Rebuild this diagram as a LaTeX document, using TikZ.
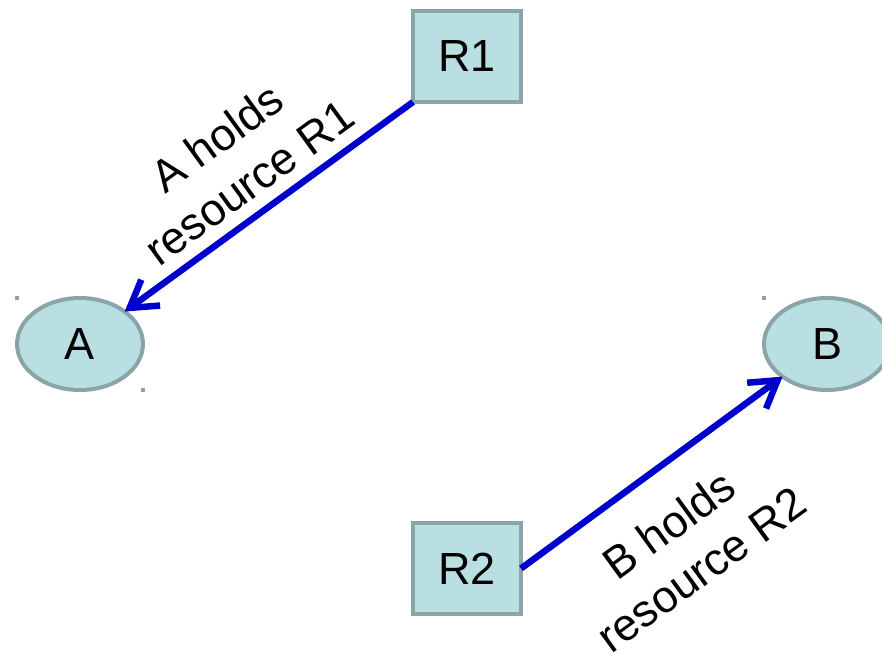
\documentclass[tikz,border=0pt]{standalone}
\usepackage{fontspec}
\setmainfont{Liberation Sans}
\usetikzlibrary{shapes.geometric, arrows.meta}
\definecolor{NodeFill}{RGB}{185,223,227}
\definecolor{NodeEdge}{RGB}{139,164,167}
\definecolor{HoldBlue}{RGB}{0,0,204}

\tikzset{
	process/.style={ellipse, draw=NodeEdge, fill=NodeFill, line width=4pt, minimum width=126pt, minimum height=92pt, inner sep=0pt, outer sep=0pt, font=\fontsize{45}{50}\selectfont},
	resource/.style={rectangle, draw=NodeEdge, fill=NodeFill, line width=4pt, minimum width=108pt, minimum height=91pt, inner sep=0pt, outer sep=0pt, font=\fontsize{45}{50}\selectfont},
	holds/.style={draw=HoldBlue, line width=6.5pt, -{Straight Barb[length=26pt, width=32pt]}},
	holdlabel/.style={rotate=36, align=center, inner sep=0pt, font=\fontsize{45}{55}\selectfont},
	tick/.style={fill=NodeEdge}
}

\begin{document}
\begin{tikzpicture}[x=1pt,y=1pt,yscale=-1,xscale=1]
		\useasboundingbox (0,0) rectangle (882,655);

		% Processes and resources
		\node[process] (a) at (80,344) {A};
		\node[process] (b) at (827,344) {B};
		\node[resource] (r1) at (467,56.5) {R1};
		\node[resource] (r2) at (467,568.5) {R2};

		% Small corner marks around the processes
		\fill[tick] (a.west |- a.north) ++(-2,-2) rectangle +(4,4);
		\fill[tick] (a.east |- a.south) ++(-2,-2) rectangle +(4,4);
		\fill[tick] (b.west |- b.north) ++(-2,-2) rectangle +(4,4);

		% Holding edges
		\draw[holds] (r1.south west) -- (a);
		\draw[holds] (r2.east) -- (b);

		% Edge labels
		\node[holdlabel] (la) at (233,160) {A holds\\resource R1};
		\node[holdlabel] (lb) at (685,547) {B holds\\resource R2};
	\end{tikzpicture}
\end{document}
